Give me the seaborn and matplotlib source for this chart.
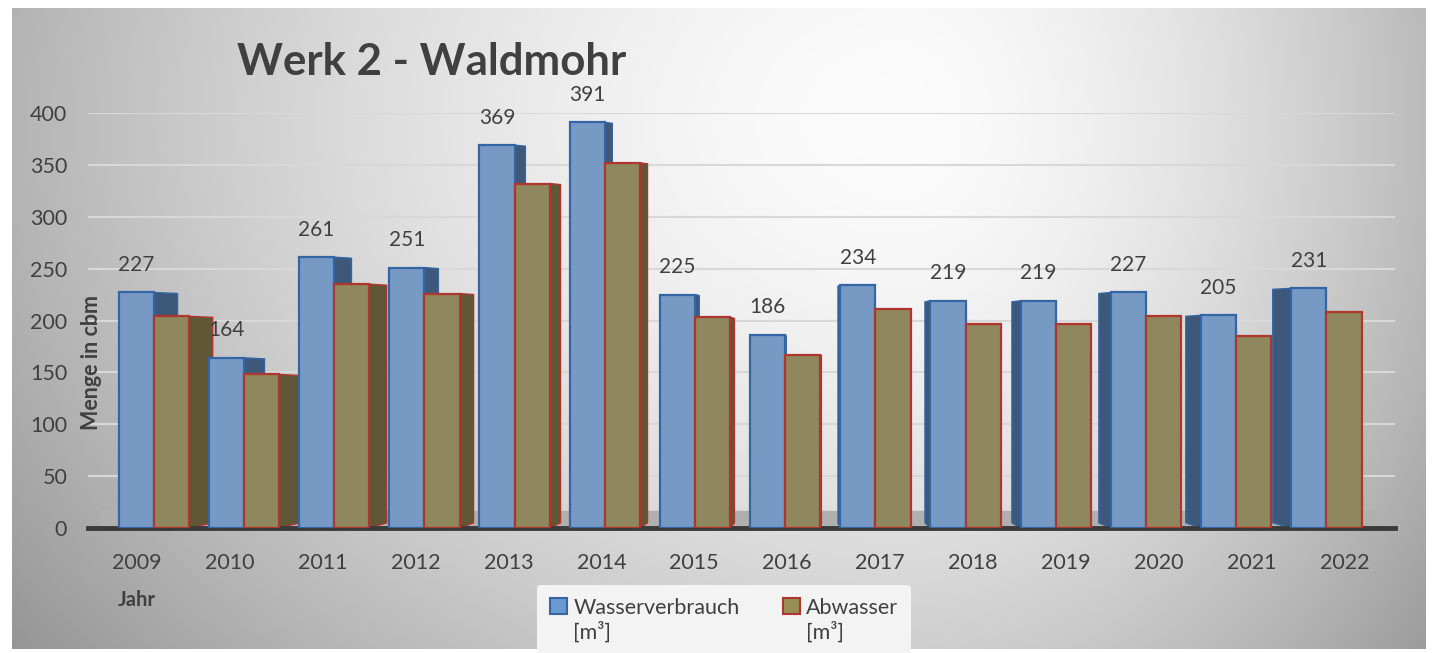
import numpy as np
import pandas as pd
import seaborn as sns
import matplotlib.pyplot as plt
from matplotlib.patches import Patch, Polygon

years = ['2009', '2010', '2011', '2012', '2013', '2014', '2015',
         '2016', '2017', '2018', '2019', '2020', '2021', '2022']
wasserverbrauch = [227, 164, 261, 251, 369, 391, 225, 186, 234, 219, 219, 227, 205, 231]
abwasser = [204, 148, 235, 226, 332, 352, 203, 167, 211, 197, 197, 204, 185, 208]
series = ['Wasserverbrauch', 'Abwasser']
unit = '[m³]'

blue_face, blue_edge, blue_side = '#6a98d2', '#3465a4', '#3d5878'
olive_face, olive_edge, olive_side = '#978d55', '#b0352f', '#5f5735'
text_col = '#404040'

sns.set_style('white')
plt.rcParams['font.family'] = ['Lato', 'DejaVu Sans']

df = pd.DataFrame({
    'Jahr': years * 2,
    'Menge': wasserverbrauch + abwasser,
    'Serie': [series[0]] * len(years) + [series[1]] * len(years),
})

W, H = 1434, 653
fig = plt.figure(figsize=(W / 100, H / 100), dpi=100)

# background panel with a soft radial gradient
bg = fig.add_axes([0, 0, 1, 1], zorder=-5)
xx, yy = np.meshgrid(np.arange(W), np.arange(H))
sx = np.where(xx < 900, 950, 600)
r = np.sqrt(((xx - 900) / sx) ** 2 + ((yy - 120) / 750) ** 2)
val = 252 - 80 * np.clip(r, 0, 1.2) ** 1.6
img = np.repeat(val[:, :, None], 3, axis=2) / 255
mask = (xx < 12) | (xx > 1425) | (yy < 8) | (yy > 648)
img[mask] = 1.0
bg.imshow(img, aspect='auto', interpolation='bilinear')
bg.axis('off')

ax = fig.add_axes([88 / W, 1 - 528 / H, (1395 - 88) / W, (528 - 113) / H])
ax.set_facecolor('none')

sns.barplot(data=df, x='Jahr', y='Menge', hue='Serie', hue_order=series,
            palette=[blue_face, olive_face], width=0.78, ax=ax,
            linewidth=1.6, zorder=3, legend=False)

# pseudo 3D side faces, perspective towards the middle of the chart
edges = [blue_edge, olive_edge]
sides = [blue_side, olive_side]
for k, bars in enumerate(ax.containers):
    for i, bar in enumerate(bars):
        bar.set_edgecolor(edges[k])
        x0, w, h = bar.get_x(), bar.get_width(), bar.get_height()
        dx = 0.036 * (7.3 - i)
        xe = x0 + w if dx > 0 else x0
        side = Polygon([(xe, 0), (xe + dx, 5), (xe + dx, h - 1), (xe, h)],
                       closed=True, facecolor=sides[k], edgecolor=edges[k],
                       linewidth=1.0, zorder=2)
        ax.add_patch(side)

# value labels above the water consumption bars
for bar, v in zip(ax.containers[0], wasserverbrauch):
    ax.text(bar.get_x() + bar.get_width() / 2, v + 17, str(v), ha='center',
            va='bottom', fontsize=15, color=text_col, clip_on=False)

# floor and gridlines
ax.axhspan(0, 16, xmin=0.01, xmax=0.985, color='#b0b0b0', zorder=1)
ax.set_ylim(0, 400)
ax.set_xlim(-0.73, 13.76)
ax.set_yticks(range(0, 401, 50))
ax.yaxis.grid(True, color='#d8d8d8', linewidth=1.5, zorder=0)
ax.set_axisbelow(True)
for s in ['top', 'right', 'left']:
    ax.spines[s].set_visible(False)
ax.spines['bottom'].set_color('#3a3a3a')
ax.spines['bottom'].set_linewidth(3.5)
ax.tick_params(axis='y', length=0, labelsize=15.5, colors=text_col, pad=15)
ax.tick_params(axis='x', length=0, labelbottom=False)
ax.set_xlabel('')
ax.set_ylabel('')

# year labels sit on the front edge of the floor, spread slightly wider
c, k = 6.3, 1.03
sec = ax.secondary_xaxis('bottom', functions=(lambda x: c + (x - c) / k,
                                              lambda s: c + (s - c) * k))
sec.set_xticks(range(len(years)), years)
sec.tick_params(length=0, labelsize=15.5, colors=text_col, pad=18)
sec.spines['bottom'].set_visible(False)

fig.text(432 / W, 1 - 62 / H, 'Werk 2 - Waldmohr', ha='center', va='center',
         fontsize=31.5, fontweight='bold', color=text_col)
fig.text(92 / W, 1 - 362 / H, 'Menge in cbm', rotation=90, ha='center',
         va='center', fontsize=15.5, fontweight='bold', color=text_col)
fig.text(137 / W, 1 - 600 / H, 'Jahr', ha='center', va='center',
         fontsize=14.5, fontweight='bold', color=text_col)

blank = Patch(facecolor='none', edgecolor='none')
handles = [Patch(facecolor=blue_face, edgecolor=blue_edge, linewidth=1.5), blank,
           Patch(facecolor=olive_face, edgecolor=olive_edge, linewidth=1.5), blank]
labels = [series[0], unit, series[1], unit]
leg = fig.legend(handles, labels, loc='upper left', ncol=2,
                 bbox_to_anchor=(526 / W, 1 - 574 / H), fontsize=15.5,
                 frameon=True, handlelength=0.8, handleheight=0.8,
                 handletextpad=0.3, columnspacing=2.0, borderpad=0.6,
                 labelspacing=0.15, labelcolor=text_col)
leg.get_frame().set_facecolor('#f3f3f3')
leg.get_frame().set_edgecolor('none')
leg.get_frame().set_alpha(1)

fig.savefig('out.png', dpi=100)
